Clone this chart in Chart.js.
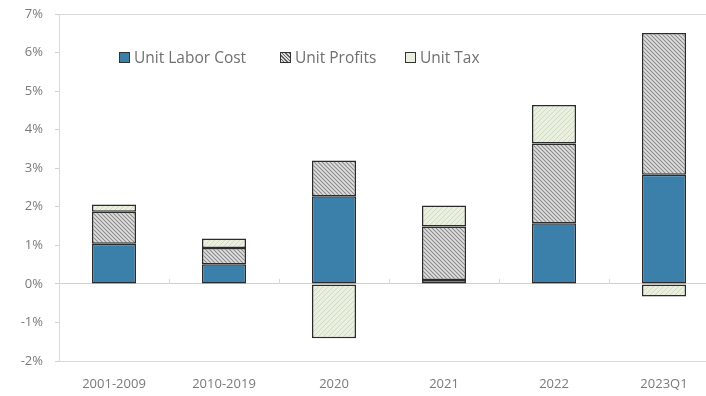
<!DOCTYPE html>
<html><head><meta charset="utf-8">
<script src="https://cdn.jsdelivr.net/npm/chart.js@4/dist/chart.umd.min.js"></script>
<style>
html,body{margin:0;padding:0;background:#fff;overflow:hidden;width:706px;height:396px}
#wrap{position:relative;width:725px;height:396px}
#legend{position:absolute;left:119px;top:46px;font-family:"Open Sans",sans-serif;font-size:15.5px;color:#6f6f6f;white-space:nowrap}
#legend span.item{position:absolute;top:0;display:flex;align-items:center}
#legend i{display:inline-block;width:9px;height:9px;border:1.5px solid #333;margin-right:4px}
</style></head>
<body>
<div id="wrap"><canvas id="c" width="725" height="396"></canvas>
<div id="legend">
<span class="item" style="left:0"><i style="background:#3b7fab"></i>Unit Labor Cost</span>
<span class="item" style="left:161px"><i style="background:repeating-linear-gradient(45deg,#ddd 0 1.5px,#666 1.5px 2.5px)"></i>Unit Profits</span>
<span class="item" style="left:286px"><i style="background:#e8efdc"></i>Unit Tax</span>
</div></div>
<script>
const categories = ["2001-2009","2010-2019","2020","2021","2022","2023Q1"];
const unitLaborCost = [1.04, 0.51, 2.27, 0.10, 1.57, 2.83];
const unitProfits   = [0.83, 0.42, 0.93, 1.39, 2.07, 3.68];
const unitTax       = [0.19, 0.25, -1.41, 0.54, 1.00, -0.33];
const yTicks = [-2,-1,0,1,2,3,4,5,6,7];

function hatch(bg, fg, size, lw, dir){
  const c = document.createElement('canvas'); c.width = size; c.height = size;
  const x = c.getContext('2d');
  x.fillStyle = bg; x.fillRect(0,0,size,size);
  x.strokeStyle = fg; x.lineWidth = lw;
  x.beginPath();
  if(dir>0){ // "\\"
    x.moveTo(-1,-1); x.lineTo(size+1,size+1);
    x.moveTo(-1,size-1); x.lineTo(1,size+1);
    x.moveTo(size-1,-1); x.lineTo(size+1,1);
  } else { // "//"
    x.moveTo(-1,size+1); x.lineTo(size+1,-1);
    x.moveTo(-1,1); x.lineTo(1,-1);
    x.moveTo(size-1,size+1); x.lineTo(size+1,size-1);
  }
  x.stroke();
  return x.createPattern(c,'repeat');
}
const ctx = document.getElementById('c').getContext('2d');
const profitPat = hatch('#e0e0e0', '#8a8a8a', 4, 1.1, 1);
const taxPat = hatch('#eaf0e0', '#ccd7bd', 5, 0.9, -1);

const frame = {
  id:'frame',
  afterDraw(chart){
    const {ctx, chartArea:a, scales} = chart;
    ctx.save();
    ctx.strokeStyle = '#d9d9d9'; ctx.lineWidth = 1;
    ctx.strokeRect(a.left+0.5, a.top+0.5, a.right-a.left, a.bottom-a.top);
    const y0 = scales.y.getPixelForValue(0);
    const x = scales.x;
    ctx.beginPath();
    for(let i=1;i<categories.length;i++){
      const px = Math.round((x.getPixelForValue(i-1)+x.getPixelForValue(i))/2)+0.5;
      ctx.moveTo(px, y0-5); ctx.lineTo(px, y0);
    }
    ctx.stroke();
    ctx.restore();
  }
};

new Chart(ctx, {
  type:'bar',
  data:{
    labels: categories,
    datasets:[
      {label:'Unit Labor Cost', data:unitLaborCost, backgroundColor:'#3b7fab'},
      {label:'Unit Profits', data:unitProfits, backgroundColor:profitPat},
      {label:'Unit Tax', data:unitTax, backgroundColor:taxPat}
    ].map(d=>Object.assign(d,{borderColor:'#2b2b2b',borderWidth:1.5,borderSkipped:false,categoryPercentage:1,barPercentage:0.4}))
  },
  options:{
    responsive:false, animation:false,
    layout:{padding:{top:0,right:6,left:0,bottom:0}},
    plugins:{legend:{display:false},tooltip:{enabled:false}},
    scales:{
      x:{stacked:true,
        grid:{display:false},
        border:{display:false},
        ticks:{color:'#7a7a7a',font:{family:'Open Sans',size:13},padding:7},
        afterFit(s){s.height=35;}
      },
      y:{stacked:true,min:-2,max:7,
        afterBuildTicks(s){s.ticks = yTicks.map(v=>({value:v}));},
        grid:{color:c=>c.tick && c.tick.value===0?'#d0d0d0':'transparent',tickColor:'#d0d0d0',tickLength:4,lineWidth:1},
        border:{display:false},
        ticks:{color:'#7a7a7a',font:{family:'Open Sans',size:13},padding:12,callback:v=>v+'%'},
        afterFit(s){s.width=59; s.paddingTop=14;}
      }
    }
  },
  plugins:[frame]
});
</script>
</body></html>
